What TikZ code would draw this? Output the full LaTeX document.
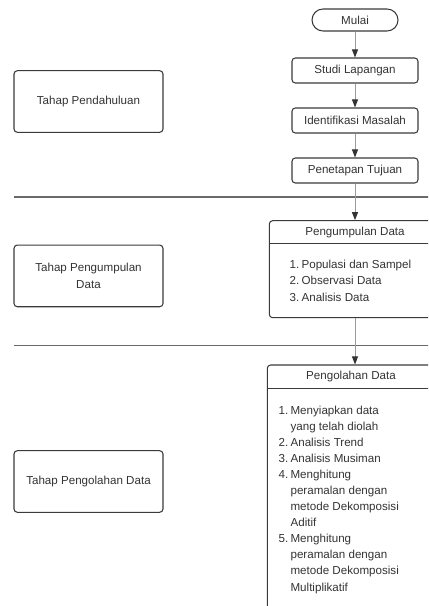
\documentclass[tikz,border=0pt]{standalone}
\usepackage{fontspec}
\setmainfont{Liberation Sans}
\usetikzlibrary{arrows.meta}
\definecolor{ink}{HTML}{333333}
\definecolor{edgec}{HTML}{3A3A3A}
\definecolor{connc}{HTML}{9A9A9A}
\definecolor{rulec}{HTML}{6A6A6A}
\newcommand\itm[1]{\makebox[9pt][l]{#1}}
\begin{document}
\begin{tikzpicture}[x=0.75pt,y=-0.75pt,
  every node/.style={font=\fontsize{8.7}{12.5}\selectfont, text=ink},
  box/.style={draw=edgec, line width=0.8pt, rounded corners=2.5pt, inner sep=0pt, align=center},
  conn/.style={draw=connc, line width=0.75pt, -{Triangle[length=6pt,width=4.5pt,color=ink]}},
  seprule/.style={draw=rulec, line width=1.1pt},
  divider/.style={draw=edgec, line width=0.8pt}]
\useasboundingbox (0,0) rectangle (428,606);
\clip (0,0) rectangle (428,606);

% separators
\coordinate (s1a) at (14,197);   \coordinate (s1b) at (430,197);
\coordinate (s2a) at (14,345.7); \coordinate (s2b) at (430,345.7);
\draw[seprule] (s1a) -- (s1b);
\draw[seprule] (s2a) -- (s2b);

% left stage boxes
\node[box, minimum width=149*0.75pt, minimum height=61.6*0.75pt] (tp1) at (88.5,101.5) {Tahap Pendahuluan};
\node[box, minimum width=149*0.75pt, minimum height=61.7*0.75pt] (tp2) at (88.5,275.9) {Tahap Pengumpulan\\Data};
\node[box, minimum width=149*0.75pt, minimum height=61.6*0.75pt] (tp3) at (88.5,481.5) {Tahap Pengolahan Data};

% right flow
\node[box, rounded corners=8.25pt, minimum width=86*0.75pt, minimum height=22*0.75pt] (mulai) at (355,20) {Mulai};
\node[box, minimum width=126*0.75pt, minimum height=25*0.75pt] (studi) at (355,70.5) {Studi Lapangan};
\node[box, minimum width=126*0.75pt, minimum height=25*0.75pt] (ident) at (355,120.5) {Identifikasi Masalah};
\node[box, minimum width=126*0.75pt, minimum height=25*0.75pt] (penet) at (355,170.5) {Penetapan Tujuan};

% Pengumpulan Data box
\node[box, minimum width=171.7*0.75pt, minimum height=97*0.75pt] (pk) at (355.15,269.2) {};
\node (pkt) at (355,232) {Pengumpulan Data};
\coordinate (pkd1) at (269.3,243.3); \coordinate (pkd2) at (441,243.3);
\draw[divider] (pkd1) -- (pkd2);
\node[anchor=north west, inner sep=0pt, align=left] (pkl) at (289.3,256.4)
 {\fontsize{8.7}{12.4}\selectfont\begin{tabular}{@{}l@{}l@{}}
 \itm{1.}&Populasi dan Sampel\\
 \itm{2.}&Observasi Data\\
 \itm{3.}&Analisis Data
 \end{tabular}};

% Pengolahan Data box
\node[box, minimum width=168.7*0.75pt, minimum height=280*0.75pt] (pl) at (351.65,505) {};
\node (plt) at (351,376.7) {Pengolahan Data};
\coordinate (pld1) at (267.3,388.3); \coordinate (pld2) at (441,388.3);
\draw[divider] (pld1) -- (pld2);
\node[anchor=north west, inner sep=0pt, align=left] (pll) at (278.3,402.8)
 {\fontsize{8.7}{12.05}\selectfont\begin{tabular}{@{}l@{}l@{}}
 \itm{1.}&Menyiapkan data\\
 &yang telah diolah\\
 \itm{2.}&Analisis Trend\\
 \itm{3.}&Analisis Musiman\\
 \itm{4.}&Menghitung\\
 &peramalan dengan\\
 &metode Dekomposisi\\
 &Aditif\\
 \itm{5.}&Menghitung\\
 &peramalan dengan\\
 &metode Dekomposisi\\
 &Multiplikatif
 \end{tabular}};

% connectors
\draw[conn] (mulai) -- (studi);
\draw[conn] (studi) -- (ident);
\draw[conn] (ident) -- (penet);
\draw[conn] (penet.south) -- (penet.south |- pk.north);
\draw[conn] (pk.south -| penet.south) -- (penet.south |- pl.north);
\end{tikzpicture}
\end{document}
